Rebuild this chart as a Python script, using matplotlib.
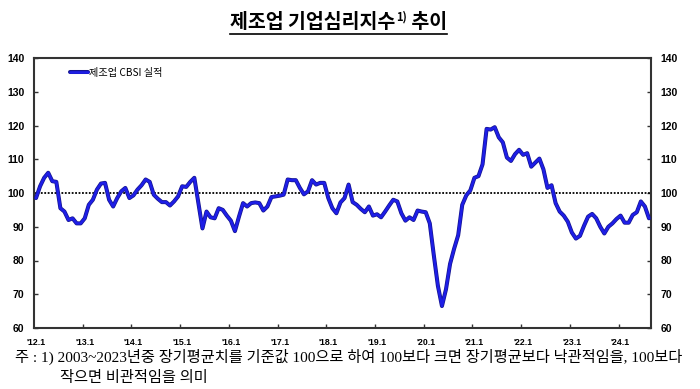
import matplotlib
matplotlib.use('Agg')
import matplotlib.pyplot as plt
import matplotlib.patheffects as pe
from matplotlib.lines import Line2D
import numpy as np

# ---------------- data ----------------
months = [f"{y}.{m}" for y in range(2012, 2025) for m in range(1, 13)][:152]
cbsi = [
    98.5, 102.0, 104.5, 106.0, 103.5, 103.3, 95.5, 94.5, 92.0, 92.5, 91.0, 91.0,   # 2012
    92.5, 96.5, 98.0, 101.0, 102.8, 103.0, 98.0, 96.0, 98.5, 100.5, 101.5, 98.5,   # 2013
    99.3, 101.0, 102.3, 104.0, 103.3, 99.5, 98.3, 97.3, 97.3, 96.3, 97.5, 99.0,    # 2014
    102.0, 101.8, 103.3, 104.5, 97.0, 89.5, 94.5, 92.8, 92.5, 95.5, 95.0, 93.3,    # 2015
    91.8, 88.7, 93.0, 97.0, 96.0, 97.0, 97.2, 97.0, 94.8, 96.0, 98.8, 99.0,        # 2016
    99.2, 99.5, 104.0, 103.8, 103.8, 101.5, 99.6, 100.5, 103.8, 102.5, 103.0, 103.0,  # 2017
    98.5, 95.5, 94.0, 97.2, 98.5, 102.5, 97.3, 96.5, 95.3, 94.3, 96.0, 93.3,       # 2018
    93.7, 92.8, 94.5, 96.3, 98.0, 97.5, 94.0, 91.8, 92.8, 92.0, 94.8, 94.5,        # 2019
    94.3, 91.0, 81.5, 72.5, 66.5, 71.5, 79.0, 83.5, 87.5, 96.5, 99.3, 100.8,       # 2020
    104.5, 105.0, 108.5, 119.0, 118.8, 119.5, 116.5, 115.0, 110.5, 109.5, 111.5, 112.8,  # 2021
    111.3, 111.8, 107.8, 109.0, 110.2, 107.0, 101.5, 102.3, 97.0, 94.5, 93.3, 91.5,  # 2022
    88.3, 86.5, 87.3, 90.3, 93.0, 93.8, 92.5, 90.0, 88.0, 90.0, 91.0, 92.3,        # 2023
    93.3, 91.2, 91.2, 93.5, 94.3, 97.5, 96.0, 92.5,                                # 2024
]
series_label = "제조업 CBSI 실적"
yticks = [60, 70, 80, 90, 100, 110, 120, 130, 140]
baseline = 100
title_main = "제조업 기업심리지수"
title_sup = "1)"
title_end = " 추이"
note_line1 = "주 : 1) 2003~2023년중 장기평균치를 기준값 100으로 하여 100보다 크면 장기평균보다 낙관적임을, 100보다"
note_line2 = "작으면 비관적임을 의미"

# ---------------- figure ----------------
plt.rcParams['font.family'] = ['Noto Sans CJK KR', 'DejaVu Sans']
W, H = 700, 389
fig = plt.figure(figsize=(W / 100, H / 100), dpi=100)
ax = fig.add_axes([34 / W, 61 / H, 617 / W, 270 / H])

x = np.arange(len(cbsi))
ax.plot(x, cbsi, color='#1e1ee6', lw=1.9, solid_joinstyle='round', solid_capstyle='round',
        path_effects=[pe.Stroke(linewidth=2.9, foreground='#14148e'), pe.Normal()],
        label=series_label, zorder=3)
ax.axhline(baseline, color='black', lw=1.3, ls=(0, (1, 0.9)), zorder=2)

ax.set_xlim(-0.5, len(cbsi) - 0.5)
ax.set_ylim(yticks[0], yticks[-1])

# y axis (both sides)
ax.set_yticks(yticks)
ax.tick_params(axis='y', which='major', direction='in', length=3, width=1,
               left=True, right=True, labelleft=True, labelright=True, pad=7,
               colors='#333333', labelcolor='black')
for t in ax.yaxis.get_major_ticks():
    for lab in (t.label1, t.label2):
        lab.set_fontfamily('Liberation Sans')
        lab.set_fontweight('bold')
        lab.set_fontsize(7.5)

# x axis: labels at January, ticks between December and January
jan_idx = [i for i, m in enumerate(months) if m.endswith('.1') and not m.endswith('.11')]
jan_labels = ["'" + months[i][2:] for i in jan_idx]
ax.set_xticks(jan_idx)
ax.set_xticklabels(jan_labels, fontfamily='Liberation Sans', fontweight='bold', fontsize=6.3)
ax.set_xticks([i - 0.5 for i in jan_idx[1:]], minor=True)
ax.tick_params(axis='x', which='major', length=0, pad=7)
ax.tick_params(axis='x', which='minor', direction='in', length=3, width=1, colors='#333333')

for s in ax.spines.values():
    s.set_color('#333333')
    s.set_linewidth(1.5)

leg = ax.legend(loc='center left', bbox_to_anchor=(0.058, 0.9456), frameon=False,
                fontsize=7.3, handlelength=1.75, handletextpad=0.15, borderpad=0,
                borderaxespad=0)

# ---------------- title with superscript & underline ----------------
renderer = fig.canvas.get_renderer()
ty = H - 22
fs_title = 14
t1 = fig.text(0, ty / H, title_main, fontsize=fs_title, fontweight='bold', va='center', ha='left')
t2 = fig.text(0, (ty + 5) / H, title_sup, fontsize=8, fontweight='bold', va='center', ha='left')
t3 = fig.text(0, ty / H, title_end, fontsize=fs_title, fontweight='bold', va='center', ha='left')
w1 = t1.get_window_extent(renderer).width
w2 = t2.get_window_extent(renderer).width
w3 = t3.get_window_extent(renderer).width
total = w1 + w2 + w3
x0 = 338 - total / 2
t1.set_x(x0 / W)
t2.set_x((x0 + w1 + 1) / W)
t3.set_x((x0 + w1 + w2 + 1) / W)
bb = t1.get_window_extent(renderer)
uy = bb.y0 - 2
fig.add_artist(Line2D([x0 / W, (x0 + total + 1) / W], [uy / H, uy / H],
                      transform=fig.transFigure, color='black', lw=1.2))

# ---------------- footnote ----------------
note_fam = ['Liberation Serif', 'Noto Sans CJK KR']
fig.text(15 / W, (H - 357) / H, note_line1, fontsize=11, family=note_fam, va='center', ha='left')
fig.text(60 / W, (H - 378) / H, note_line2, fontsize=11, family=note_fam, va='center', ha='left')

fig.savefig('out.png', dpi=100)
